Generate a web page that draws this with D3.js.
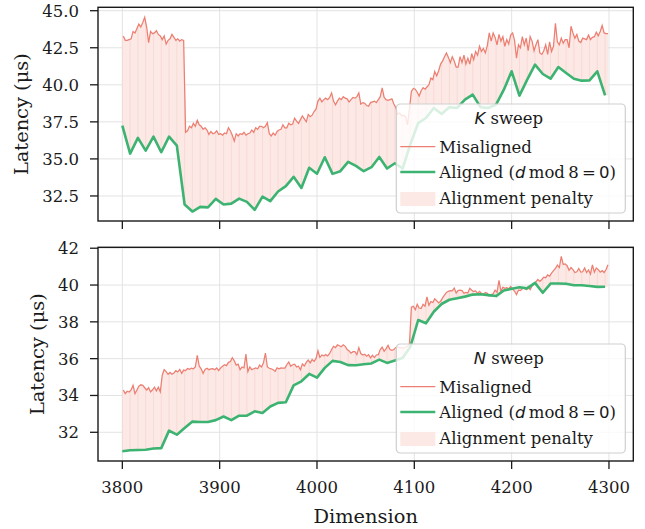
<!DOCTYPE html>
<html>
<head>
<meta charset="utf-8">
<script src="https://cdn.jsdelivr.net/npm/d3@7"></script>
<style>
    body { margin: 0; background: #fff; }
    text { font-family: "DejaVu Serif", serif; fill: #1a1a1a; }
</style>
</head>
<body>
<svg id="drawing_region" width="645" height="529"></svg>
<script>
// dimensions: aligned ones are multiples of 8, misaligned ones sampled on odd sizes
const alignedDims = d3.range(3800, 4297, 8);
const misalignedDims = d3.range(3801, 4300, 2);

// K sweep (latency in us)
const kAligned = [
    37.25, 35.36, 36.42, 35.56, 36.5, 35.45, 36.5, 35.9, 31.92, 31.45, 31.76, 31.73, 32.3,
    31.92, 31.98, 32.32, 32.1, 31.56, 32.46, 32.15, 32.8, 33.16, 33.79, 33.04, 34.4,
    34.0, 35.11, 33.99, 34.17, 34.8, 34.53, 34.17, 34.44, 35.13, 34.35, 34.71, 34.35,
    36.0, 37.42, 37.76, 38.44, 38.03, 38.49, 38.44, 39.0, 39.34, 38.49, 38.44, 38.66,
    39.67, 40.91, 39.27, 40.35, 41.36, 40.73, 40.41, 41.2, 40.8, 40.41, 40.28, 40.3, 40.91, 39.29
];
const kMisaligned = [
    43.3, 43.0, 43.0, 43.05,   43.1, 43.6, 43.5, 43.8,   44.1, 43.9, 44.2, 44.55,   43.9, 42.85, 43.6, 43.45,
    43.5, 43.65, 43.4, 43.3,   43.05, 43.3, 42.75, 43.0,   43.1, 43.4, 43.2, 43.0,   43.1, 42.95, 43.05, 43.0,
    36.8, 36.9, 37.2, 37.1,   37.4, 37.2, 37.6, 37.3,   37.2, 37.0, 37.1, 36.95,   36.65, 36.85, 36.7, 36.75,
    36.9, 36.65, 36.7, 36.6,   36.75, 36.7, 37.1, 36.9,   36.6, 36.2, 36.7, 36.55,   36.7, 36.65, 36.8, 36.6,
    36.7, 36.75, 36.95, 36.8,   37.1, 37.0, 37.2, 37.2,   37.1, 37.2, 37.45, 36.7,   36.55, 36.75, 36.6, 36.85,
    36.95, 37.0, 37.3, 37.1,   37.1, 37.4, 37.3, 37.35,   37.75, 37.55, 37.4, 37.65,   37.9, 37.7, 37.5, 38.0,
    37.85, 37.95, 38.2, 38.35,   38.9, 39.1, 38.85, 39.0,   39.1, 39.0, 39.15, 39.45,   38.9, 38.65, 38.9, 39.1,
    39.0, 39.2, 39.1, 39.05,   38.85, 39.0, 39.15, 39.1,   39.2, 39.45, 38.7, 38.8,   38.75, 38.6, 38.55, 38.8,
    38.85, 38.9, 38.8, 39.0,   39.2, 39.8, 39.15, 39.0,   38.95, 39.0, 39.05, 38.7,   38.45, 38.0, 38.1, 37.9,
    37.95, 37.85, 37.3, 38.4,   39.55, 39.75, 39.7, 39.5,   39.25, 39.6, 39.8, 39.7,   39.85, 40.0, 40.45, 40.35,
    40.9, 40.6, 40.95, 41.4,   41.6, 41.9, 42.15, 41.85,   41.5, 41.9, 41.6, 41.2,   41.2, 41.9, 41.5, 42.0,
    41.4, 41.8, 41.4, 42.1,   41.7, 42.25, 42.0, 42.6,   42.25, 42.45, 42.15, 42.65,   43.5, 42.95, 43.5, 43.2,
    42.7, 43.4, 42.95, 43.25,   42.6, 43.05, 42.75, 43.35,   43.5, 43.0, 41.8, 42.7,   42.5, 43.25, 42.7, 43.15,
    42.3, 43.25, 42.95, 42.3,   42.7, 43.05, 42.15, 42.05,   42.3, 42.7, 42.05, 42.9,   42.25, 42.6, 44.15, 42.9,
    42.7, 43.15, 42.8, 43.05,   43.05, 42.5, 43.95, 43.5,   43.15, 43.4, 42.95, 42.85,   43.15, 43.1, 43.05, 43.35,
    43.05, 43.2, 43.25, 43.55,   43.3, 43.6, 44.0, 43.5,   43.45, 43.45
];

// N sweep (latency in us)
const nAligned = [
    30.97, 31.02, 31.04, 31.05, 31.12, 31.14, 32.09, 31.87, 32.23, 32.58, 32.56, 32.56, 32.66,
    32.86, 32.66, 32.9, 32.9, 33.14, 33.05, 33.4, 33.6, 33.63, 34.55, 34.77, 35.17,
    34.97, 35.5, 35.88, 35.82, 35.65, 35.64, 35.7, 35.74, 35.95, 35.77, 35.9, 36.04,
    36.65, 38.1, 37.92, 38.55, 38.97, 39.2, 39.28, 39.37, 39.48, 39.5, 39.45, 39.4,
    39.7, 39.8, 39.88, 39.82, 40.12, 39.58, 40.08, 40.08, 40.07, 39.99, 39.99, 39.95, 39.9, 39.91
];
const nMisaligned = [
    34.3, 34.1, 34.23, 34.19,   34.3, 34.55, 34.1, 34.3,   34.5, 34.58, 34.55, 34.42,   34.3, 34.42, 34.19, 34.31,
    34.45, 34.25, 34.45, 34.2,   35.1, 35.4, 35.3, 35.15,   35.25, 35.15, 35.22, 35.35,   35.28, 35.42, 35.2, 35.38,
    35.35, 35.46, 35.42, 35.48,   35.45, 35.55, 36.18, 35.6,   35.45, 35.2, 35.42, 35.48,   35.4, 35.44, 35.46, 35.4,
    35.5, 35.35, 35.5, 35.59,   35.67, 35.62, 35.8, 35.84,   36.05, 35.89, 35.65, 35.7,   35.4, 35.55, 35.5, 36.25,
    35.3, 35.55, 35.4, 35.45,   35.5, 35.45, 35.65, 35.55,   35.77, 36.3, 35.55, 35.48,   35.45, 35.4, 35.31, 35.5,
    35.45, 35.5, 35.48, 35.49,   35.67, 35.82, 35.59, 35.67,   35.7, 35.55, 35.59, 35.4,   35.71, 35.6, 35.8, 35.92,
    35.77, 35.95, 35.85, 36.0,   36.43, 36.07, 36.2, 36.15,   36.22, 36.15, 36.28, 36.5,   36.67, 36.6, 36.75, 36.7,
    36.65, 36.75, 36.67, 36.5,   36.42, 36.3, 36.38, 36.38,   36.22, 36.6, 36.28, 36.2,   36.24, 36.13, 36.22, 36.04,
    36.18, 36.06, 36.2, 36.22,   36.49, 36.62, 36.4, 36.55,   36.72, 36.5, 36.45, 36.5,   36.6, 36.62, 36.6, 36.58,
    36.58, 36.62, 36.67, 36.8,   38.8, 38.85, 38.66, 38.95,   38.75, 38.72, 38.95, 38.85,   39.35, 38.9, 39.1, 39.05,
    39.25, 39.15, 39.03, 39.12,   39.3, 39.45, 39.6, 39.66,   39.7, 39.68, 39.84, 39.57,   39.7, 39.72, 39.7, 39.55,
    39.6, 39.57, 39.82, 39.72,   39.65, 39.68, 39.55, 39.66,   39.55, 39.5, 39.6, 39.55,   39.4, 39.48, 39.52, 39.72,
    39.6, 40.25, 39.65, 39.88,   39.82, 39.86, 39.8, 39.92,   39.78, 39.66, 39.48, 39.72,   39.7, 39.8, 39.83, 39.75,
    39.92, 39.75, 39.95, 40.05,   40.18, 40.3, 40.2, 40.3,   40.43, 40.4, 40.55, 40.48,   40.65, 40.78, 40.9, 41.08,
    40.95, 41.56, 41.12, 41.15,   41.05, 40.8, 40.95, 40.84,   40.68, 40.72, 40.9, 40.7,   40.72, 40.93, 40.68, 40.82,
    40.6, 41.1, 40.7, 40.93,   40.84, 40.7, 40.78, 40.68,   40.84, 41.1
];

const xTicks = [3800, 3900, 4000, 4100, 4200, 4300];
const kTicks = [32.5, 35.0, 37.5, 40.0, 42.5, 45.0];
const nTicks = [32, 34, 36, 38, 40, 42];

const RED = '#ec7f71';
const GREEN = '#3cb371';
const FILL = '#fce8e5';

const svg = d3.select('#drawing_region');
svg.append('rect').attr('width', 645).attr('height', 529).attr('fill', '#fff');

const xscale = d3.scaleLinear().domain([3775, 4325]).range([98, 633.3]);

// linear lookup of a series at an arbitrary dimension (clamped at the ends)
function lookup(xs, ys, x) {
    if (x <= xs[0]) return ys[0];
    if (x >= xs[xs.length - 1]) return ys[ys.length - 1];
    const i = d3.bisectRight(xs, x);
    const t = (x - xs[i - 1]) / (xs[i] - xs[i - 1]);
    return ys[i - 1] + t * (ys[i] - ys[i - 1]);
}

function drawPanel(cfg) {
    const yscale = d3.scaleLinear().domain(cfg.ydomain).range([cfg.bottom, cfg.top]);
    const g = svg.append('g');
    const left = 98, right = 633.3;

    // grid
    g.selectAll('.gx').data(xTicks).enter().append('line')
        .attr('x1', d => xscale(d)).attr('x2', d => xscale(d))
        .attr('y1', cfg.top).attr('y2', cfg.bottom)
        .attr('stroke', '#e3e3e3').attr('stroke-width', 1);
    g.selectAll('.gy').data(cfg.ticks).enter().append('line')
        .attr('x1', left).attr('x2', right)
        .attr('y1', d => yscale(d)).attr('y2', d => yscale(d))
        .attr('stroke', '#e3e3e3').attr('stroke-width', 1);

    // penalty area between the two curves
    const allDims = alignedDims.concat(misalignedDims).sort((a, b) => a - b);
    const band = allDims.map(x => ({
        x: x,
        hi: lookup(misalignedDims, cfg.mis, x),
        lo: lookup(alignedDims, cfg.al, x)
    }));
    g.append('path').datum(band)
        .attr('fill', FILL)
        .attr('d', d3.area().x(d => xscale(d.x)).y0(d => yscale(d.lo)).y1(d => yscale(d.hi)));

    // faint seams at each aligned dimension
    g.selectAll('.seam').data(alignedDims).enter().append('line')
        .attr('x1', d => xscale(d)).attr('x2', d => xscale(d))
        .attr('y1', (d, i) => yscale(cfg.al[i]))
        .attr('y2', d => yscale(lookup(misalignedDims, cfg.mis, d)))
        .attr('stroke', '#eaa49b').attr('stroke-opacity', 0.25).attr('stroke-width', 0.8);

    g.append('path').datum(cfg.mis)
        .attr('fill', 'none').attr('stroke', RED).attr('stroke-width', 1.25)
        .attr('d', d3.line().x((d, i) => xscale(misalignedDims[i])).y(d => yscale(d)));

    g.append('path').datum(cfg.al)
        .attr('fill', 'none').attr('stroke', GREEN).attr('stroke-width', 2.6)
        .attr('stroke-linejoin', 'round')
        .attr('d', d3.line().x((d, i) => xscale(alignedDims[i])).y(d => yscale(d)));

    // frame
    g.append('rect')
        .attr('x', left).attr('y', cfg.top)
        .attr('width', right - left).attr('height', cfg.bottom - cfg.top)
        .attr('fill', 'none').attr('stroke', '#1a1a1a').attr('stroke-width', 1.4);

    // ticks
    g.selectAll('.ty').data(cfg.ticks).enter().append('line')
        .attr('x1', left - 8).attr('x2', left)
        .attr('y1', d => yscale(d)).attr('y2', d => yscale(d))
        .attr('stroke', '#1a1a1a').attr('stroke-width', 1.3);
    g.selectAll('.tyl').data(cfg.ticks).enter().append('text')
        .attr('x', left - 19).attr('y', d => yscale(d) + 6)
        .attr('text-anchor', 'end').attr('font-size', '16.5px')
        .text(cfg.fmt);
    g.selectAll('.tx').data(xTicks).enter().append('line')
        .attr('x1', d => xscale(d)).attr('x2', d => xscale(d))
        .attr('y1', cfg.bottom).attr('y2', cfg.bottom + 8)
        .attr('stroke', '#1a1a1a').attr('stroke-width', 1.3);
    if (cfg.xlabels) {
        g.selectAll('.txl').data(xTicks).enter().append('text')
            .attr('x', d => xscale(d)).attr('y', cfg.bottom + 32)
            .attr('text-anchor', 'middle').attr('font-size', '16.5px')
            .text(d => d);
    }

    // y label
    const cy = (cfg.top + cfg.bottom) / 2;
    g.append('text')
        .attr('transform', `translate(${cfg.ylabelX}, ${cy}) rotate(-90)`)
        .attr('text-anchor', 'middle').attr('font-size', '19.4px')
        .text('Latency (μs)');

    // legend
    const lw = 229, lh = 109;
    const lx = right - 8 - lw, ly = cfg.bottom - 8 - lh;
    const lg = g.append('g').attr('transform', `translate(${lx}, ${ly})`);
    lg.append('rect').attr('width', lw).attr('height', lh).attr('rx', 4)
        .attr('fill', '#fff').attr('fill-opacity', 0.8)
        .attr('stroke', '#cfcfcf').attr('stroke-width', 1.2);
    const title = lg.append('text').attr('x', lw / 2 - 2).attr('y', 19.5)
        .attr('text-anchor', 'middle').attr('font-size', '16.5px');
    title.append('tspan').attr('font-family', 'DejaVu Sans').attr('font-style', 'italic').text(cfg.sym);
    title.append('tspan').text(' sweep');

    lg.append('line').attr('x1', 4).attr('x2', 39).attr('y1', 42.5).attr('y2', 42.5)
        .attr('stroke', RED).attr('stroke-width', 1.25);
    lg.append('text').attr('x', 43).attr('y', 48.5).attr('font-size', '16.5px').text('Misaligned');

    lg.append('line').attr('x1', 4).attr('x2', 39).attr('y1', 68).attr('y2', 68)
        .attr('stroke', GREEN).attr('stroke-width', 2.6);
    const t2 = lg.append('text').attr('x', 43).attr('y', 73.5).attr('font-size', '16.5px');
    t2.append('tspan').text('Aligned (');
    t2.append('tspan').attr('font-family', 'DejaVu Sans').attr('font-style', 'italic').text('d');
    t2.append('tspan').text('\u2009mod\u20098\u2009');
    t2.append('tspan').attr('font-family', 'DejaVu Sans').text('=\u20090');
    t2.append('tspan').text(')');

    lg.append('rect').attr('x', 4).attr('y', 88).attr('width', 35).attr('height', 14)
        .attr('fill', FILL);
    lg.append('text').attr('x', 43).attr('y', 100).attr('font-size', '16.5px').text('Alignment penalty');
}

drawPanel({
    top: 7.3, bottom: 221, ydomain: [30.81, 45.23],
    ticks: kTicks, fmt: d => d.toFixed(1),
    al: kAligned, mis: kMisaligned, sym: 'K',
    xlabels: false, ylabelX: 28
});

drawPanel({
    top: 247.3, bottom: 461, ydomain: [30.44, 42.05],
    ticks: nTicks, fmt: d => d,
    al: nAligned, mis: nMisaligned, sym: 'N',
    xlabels: true, ylabelX: 44
});

svg.append('text')
    .attr('x', 365.7).attr('y', 523)
    .attr('text-anchor', 'middle').attr('font-size', '19.4px')
    .text('Dimension');
</script>
</body>
</html>
